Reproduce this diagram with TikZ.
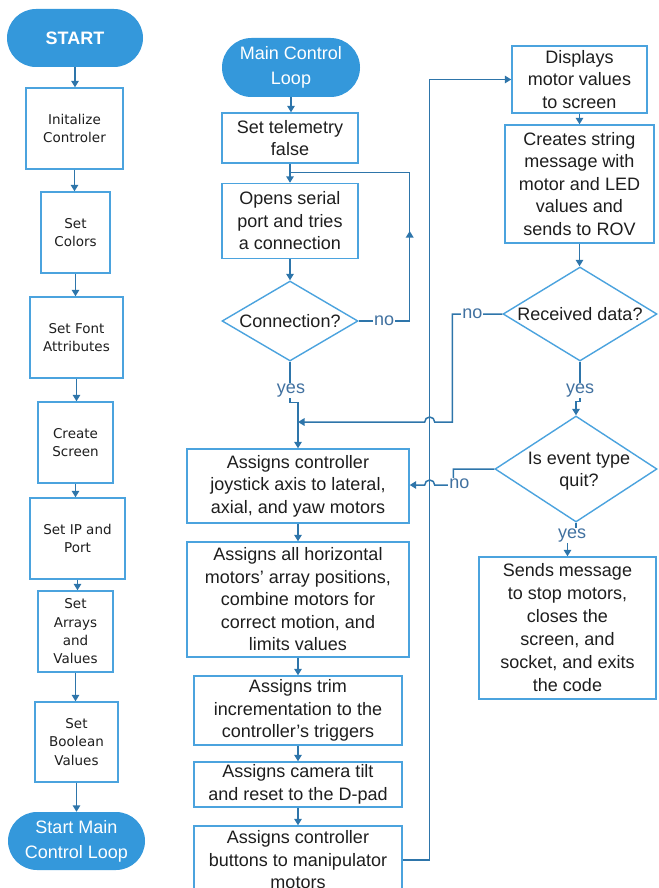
\documentclass[tikz,border=0pt]{standalone}
\usepackage{fontspec}
\setmainfont{Liberation Sans}
\newfontfamily\leftfont{DejaVu Sans}
\usetikzlibrary{shapes.geometric,arrows.meta,calc}
\definecolor{fillblue}{RGB}{52,152,219}
\definecolor{boxblue}{RGB}{75,163,222}
\definecolor{linkblue}{RGB}{46,117,170}
\definecolor{lblblue}{RGB}{65,113,160}
\definecolor{txt}{RGB}{30,30,30}
\begin{document}
\begin{tikzpicture}[x=1pt,y=-1pt,
  term/.style={fill=fillblue, text=white, align=center, inner sep=0pt,
    font=\fontsize{18}{25}\selectfont},
  lbox/.style={draw=boxblue, line width=1.4pt, fill=white, text=txt, align=center,
    inner sep=0pt, font=\leftfont\fontsize{13.5}{18.3}\selectfont},
  mbox/.style={draw=boxblue, line width=1.4pt, fill=white, text=txt, align=center,
    inner sep=0pt, font=\fontsize{18}{22.5}\selectfont},
  dia/.style={diamond, draw=boxblue, line width=1.4pt, fill=white, inner sep=0pt},
  dtext/.style={text=txt, align=center, font=\fontsize{18}{22.5}\selectfont},
  link/.style={draw=linkblue, line width=1.5pt},
  arr/.style={draw=linkblue, line width=1.5pt, -{Triangle[length=6.5pt,width=7.5pt]}},
  yn/.style={text=lblblue, fill=white, inner sep=1pt, font=\fontsize{18}{20}\selectfont}]
\useasboundingbox (0,0) rectangle (658,888);
\clip (0,0) rectangle (658,888);

% ---------- left column ----------
\node[term, minimum width=136, minimum height=58, rounded corners=29] (start) at (75,38) {\textbf{START}};
\node[lbox, minimum width=97, minimum height=81] (init) at (74.5,128.5) {Initalize\\Controler};
\node[lbox, minimum width=69, minimum height=81] (colors) at (75.5,232.5) {Set\\Colors};
\node[lbox, minimum width=93, minimum height=81] (fontb) at (76.5,337.5) {Set Font\\Attributes};
\node[lbox, minimum width=75, minimum height=81] (screen) at (75.5,442.5) {Create\\Screen};
\node[lbox, minimum width=95, minimum height=81] (ip) at (77.5,538.5) {Set IP and\\Port};
\node[lbox, minimum width=75, minimum height=81] (arrays) at (75.5,631.5) {Set\\Arrays\\and\\Values};
\node[lbox, minimum width=83, minimum height=80] (bool) at (76.5,742) {Set\\Boolean\\Values};
\node[term, minimum width=137, minimum height=58, rounded corners=29] (smcl) at (76.5,841) {Start Main\\Control Loop};

\draw[arr] (start.south) -- (start.south |- init.north);
\draw[arr] (init.south) -- (init.south |- colors.north);
\draw[arr] (colors.south) -- (colors.south |- fontb.north);
\draw[arr] (fontb.south) -- (fontb.south |- screen.north);
\draw[arr] (screen.south) -- (screen.south |- ip.north);
\draw[arr] (ip.south) -- (ip.south |- arrays.north);
\draw[arr] (arrays.south) -- (arrays.south |- bool.north);
\draw[arr] (bool.south) -- (bool.south |- smcl.north);

% ---------- middle column ----------
\node[term, minimum width=138, minimum height=59, rounded corners=29.5] (mcl) at (291,67.5) {Main Control\\Loop};
\node[mbox, minimum width=136, minimum height=50] (tele) at (290,138) {Set telemetry\\false};
\node[mbox, minimum width=136, minimum height=75] (open) at (290,221) {Opens serial\\port and tries\\a connection};
\node[dia, minimum width=136, minimum height=80] (conn) at (290,321) {};
\node[dtext] at (conn.center) {Connection?};
\node[mbox, minimum width=222, minimum height=74] (joy) at (298,486) {Assigns controller\\joystick axis to lateral,\\axial, and yaw motors};
\node[mbox, minimum width=222, minimum height=115] (horiz) at (298,599.5) {Assigns all horizontal\\motors' array positions,\\combine motors for\\correct motion, and\\limits values};
\node[mbox, minimum width=208, minimum height=69] (trim) at (298,710.5) {Assigns trim\\incrementation to the\\controller's triggers};
\node[mbox, minimum width=208, minimum height=45] (cam) at (298,784.5) {Assigns camera tilt\\and reset to the D-pad};
\node[mbox, minimum width=208, minimum height=68] (btn) at (298,860) {Assigns controller\\buttons to manipulator\\motors};

\draw[arr] (mcl.south) -- (mcl.south |- tele.north);
\draw[arr] (tele.south) -- (tele.south |- open.north);
\draw[arr] (open.south) -- (open.south |- conn.north);
% no-loop
\coordinate (nr) at ($(conn.east)+(51,0)$);
\draw[link] (conn.east) -- (nr) |- ($(tele.south)!0.45!(open.north)$);
\draw[arr] (nr) -- ($(nr)+(0,-90)$);
\node[yn] at ($(conn.east)!0.5!(nr)$) {no};
% yes
\draw[arr] (conn.south) -- ++(0,41) -| (joy.north);
\node[yn] at ($(conn.south)+(1,29)$) {yes};

\draw[arr] (joy.south) -- (joy.south |- horiz.north);
\draw[arr] (horiz.south) -- (horiz.south |- trim.north);
\draw[arr] (trim.south) -- (trim.south |- cam.north);
\draw[arr] (cam.south) -- (cam.south |- btn.north);

% ---------- right column ----------
\node[mbox, minimum width=135, minimum height=67] (disp) at (579.5,79.5) {Displays\\motor values\\to screen};
\node[mbox, minimum width=149, minimum height=118] (creates) at (579.5,184) {Creates string\\message with\\motor and LED\\values and\\sends to ROV};
\node[dia, minimum width=154, minimum height=94] (recv) at (580,314) {};
\node[dtext] at (recv.center) {Received data?};
\node[dia, minimum width=162, minimum height=106] (quit) at (576,469) {};
\node[dtext] at ($(quit.center)+(3,2)$) {Is event type\\quit?};
\node[mbox, minimum width=177, minimum height=142, font=\fontsize{18}{23}\selectfont] (sends) at (567.5,628) {Sends message\\to stop motors,\\closes the\\screen, and\\socket, and exits\\the code};

% long connector buttons -> display
\draw[arr] (btn.east) -- ++(27,0) coordinate (bus) |- (disp.west);
\draw[arr] (disp.south) -- (disp.south |- creates.north);
\draw[arr] (creates.south) -- (creates.south |- recv.north);

% received data: no
\coordinate (rnA) at ($(recv.west)+(-50,0)$);
\coordinate (rnB) at ($(rnA)+(0,108)$);
\draw[arr] (recv.west) -- (rnA) -- (rnB) -- ($(bus |- rnB)+(5,0)$)
  arc[start angle=0, end angle=-180, radius=5] -- (joy.north |- rnB);
\node[yn] at ($(recv.west)+(-30,0)$) {no};
% received data: yes
\draw[arr] (recv.south) -- ++(0,40) -| (quit.north);
\node[yn] at ($(recv.south)+(0,29)$) {yes};

% quit: no
\coordinate (qnA) at ($(quit.west)+(-41,0)$);
\coordinate (qnB) at ($(qnA)+(0,16)$);
\draw[arr] (quit.west) -- (qnA) -- (qnB) -- ($(bus |- qnB)+(5,0)$)
  arc[start angle=0, end angle=-180, radius=5] -- (joy.east |- qnB);
\node[yn] at ($(qnB)+(6,-1)$) {no};
% quit: yes
\draw[arr] (quit.south) -- ++(0,13) -| (sends.north);
\node[yn] at ($(quit.south)+(-4,13)$) {yes};
\end{tikzpicture}
\end{document}
